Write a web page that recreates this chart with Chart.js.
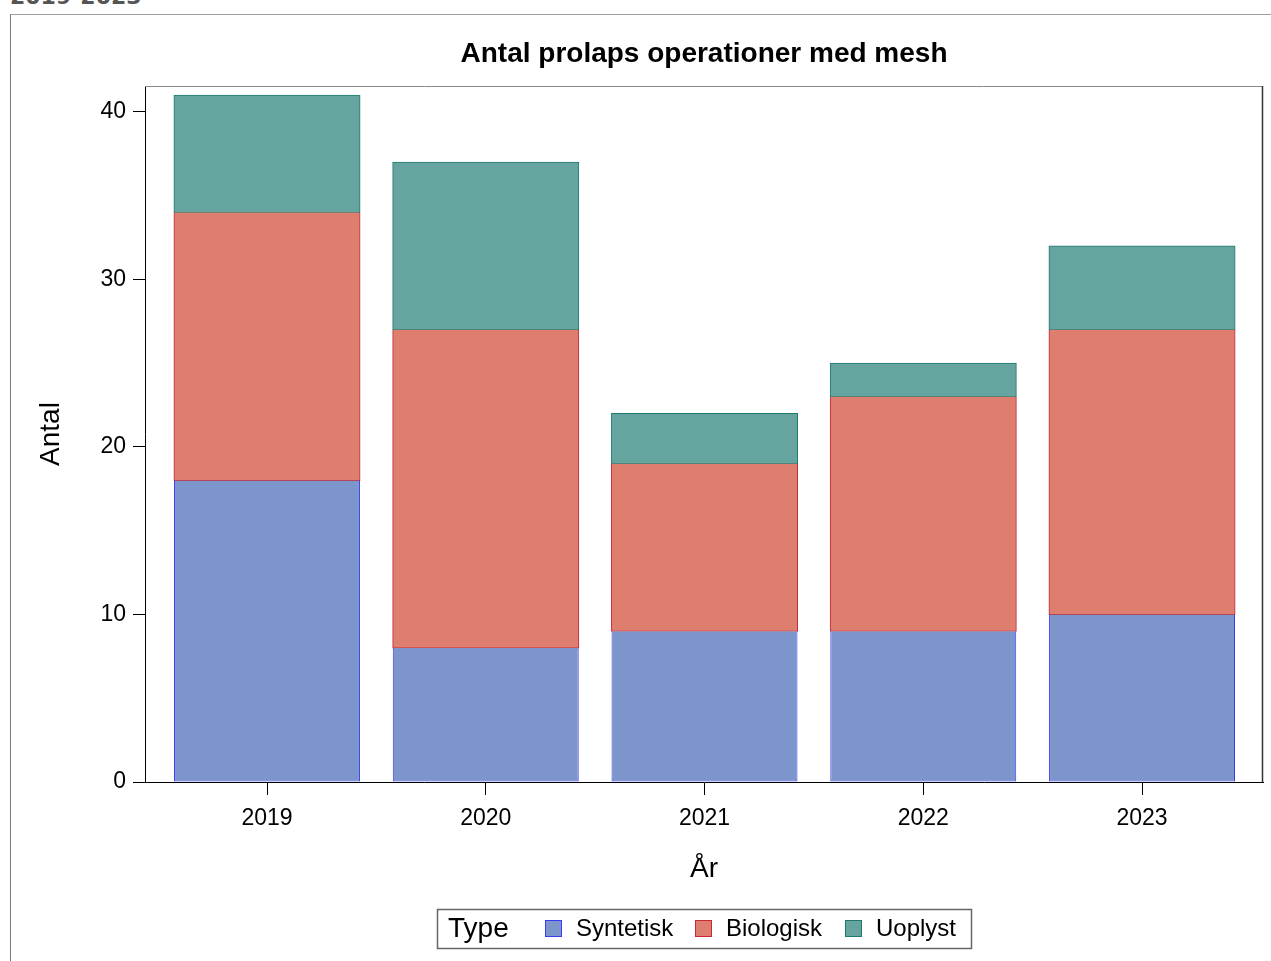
<!DOCTYPE html>
<html>
<head>
<meta charset="utf-8">
<script src="https://cdn.jsdelivr.net/npm/chart.js@4.4.1/dist/chart.umd.min.js"></script>
<style>
  html, body { margin: 0; padding: 0; background: #fff; width: 1271px; height: 961px; overflow: hidden; }
  #heading { position: absolute; left: 10px; top: -14px; font: bold 22px 'DejaVu Sans', sans-serif; line-height: 22px; color: #555; white-space: nowrap; }
  #frame { position: absolute; left: 10px; top: 14px; width: 1300px; height: 1000px; border-top: 1px solid #a0a0a0; border-left: 1px solid #7a7a7a; }
  #c { position: absolute; left: 11px; top: 15px; }
</style>
</head>
<body>
<div id="heading">2019-2023</div>
<div id="frame"></div>
<canvas id="c" width="1260" height="946"></canvas>
<script>
const years = ['2019', '2020', '2021', '2022', '2023'];
const syntetisk = [18, 8, 9, 9, 10];
const biologisk = [16, 19, 10, 14, 17];
const uoplyst = [7, 10, 3, 2, 5];
const yTicks = [0, 10, 20, 30, 40];
const seriesNames = ['Syntetisk', 'Biologisk', 'Uoplyst'];

const FONT = "'Liberation Sans', Arial, sans-serif";

function hasFont(name) {
  const cx = document.createElement('canvas').getContext('2d');
  const s = 'abcdefghijklmnopqrstuvwxyz0123456789';
  cx.font = '40px monospace';
  const a = cx.measureText(s).width;
  cx.font = "40px '" + name + "', monospace";
  const b = cx.measureText(s).width;
  return Math.abs(a - b) > 0.5;
}
const narrow = hasFont('Liberation Sans Narrow');
const TICKFONT = narrow ? { family: "'Liberation Sans Narrow', 'Liberation Sans', sans-serif", size: 26 }
                        : { family: FONT, size: 23 };

const toPoints = arr => arr.map((v, i) => ({ x: i, y: v }));

const frameLines = {
  id: 'frameLines',
  afterDatasetsDraw(chart) {
    const { ctx, chartArea: a } = chart;
    ctx.save();
    ctx.lineWidth = 1;
    ctx.strokeStyle = '#8a8a8a';
    ctx.beginPath();
    ctx.moveTo(a.left, a.top + 0.5);
    ctx.lineTo(a.right, a.top + 0.5);
    ctx.stroke();
    ctx.strokeStyle = '#333';
    ctx.lineWidth = 1.5;
    ctx.beginPath();
    ctx.moveTo(a.right - 0.5, a.top);
    ctx.lineTo(a.right - 0.5, a.bottom);
    ctx.stroke();
    ctx.restore();
  }
};

const boxLegend = {
  id: 'boxLegend',
  afterDraw(chart) {
    const { ctx } = chart;
    const box = { x: 426, y: 894, w: 534, h: 39 };
    ctx.save();
    ctx.strokeStyle = '#666';
    ctx.lineWidth = 1.5;
    ctx.strokeRect(box.x + 0.5, box.y + 0.5, box.w, box.h);
    const cy = box.y + box.h / 2 + 1;
    ctx.fillStyle = '#000';
    ctx.textBaseline = 'middle';
    ctx.textAlign = 'left';
    ctx.font = '28px ' + FONT;
    ctx.fillText('Type', box.x + 11, cy);
    ctx.font = '24px ' + FONT;
    chart.data.datasets.forEach((ds, i) => {
      const sx = box.x + 108 + i * 150;
      ctx.fillStyle = ds.backgroundColor;
      ctx.fillRect(sx, box.y + 11, 16, 16);
      ctx.strokeStyle = ds.borderColor;
      ctx.lineWidth = 1;
      ctx.strokeRect(sx + 0.5, box.y + 11.5, 16, 16);
      ctx.fillStyle = '#000';
      ctx.fillText(ds.label, sx + 31, cy);
    });
    ctx.restore();
  }
};

new Chart(document.getElementById('c'), {
  type: 'bar',
  data: {
    datasets: [
      { label: seriesNames[0], data: toPoints(syntetisk), backgroundColor: '#7c96cc', borderColor: '#3a3af0', borderWidth: 1, borderSkipped: 'end', inflateAmount: 0 },
      { label: seriesNames[1], data: toPoints(biologisk), backgroundColor: '#de7e6e', borderColor: '#c8283c', borderWidth: 1, borderSkipped: 'end', inflateAmount: 0.5 },
      { label: seriesNames[2], data: toPoints(uoplyst), backgroundColor: '#66a59f', borderColor: '#1f7a6e', borderWidth: 1, borderSkipped: false, inflateAmount: 0.5 }
    ]
  },
  options: {
    responsive: false,
    animation: false,
    layout: { padding: { left: 0, right: 8, top: 0, bottom: 59 } },
    categoryPercentage: 1,
    barPercentage: 0.85,
    plugins: {
      legend: { display: false },
      tooltip: { enabled: false },
      title: {
        display: true,
        text: 'Antal prolaps operationer med mesh',
        fullSize: false,
        color: '#000',
        font: { family: FONT, size: 28, weight: 'bold', lineHeight: 1.2 },
        padding: { top: 22, bottom: 15.4 }
      }
    },
    scales: {
      x: {
        type: 'linear',
        stacked: true,
        offset: false,
        bounds: 'data',
        min: -0.5577,
        max: 4.553,
        afterBuildTicks: s => { s.ticks = years.map((_, i) => ({ value: i })); },
        afterFit: s => { s.height = 120; },
        ticks: {
          callback: v => years[v],
          color: '#000',
          font: TICKFONT,
          padding: 10,
          maxRotation: 0,
          autoSkip: false
        },
        grid: { display: true, offset: false, drawOnChartArea: false, drawTicks: true, tickLength: 13, color: '#000' },
        border: { display: true, color: '#000', width: 1 },
        title: {
          display: true,
          text: 'År',
          color: '#000',
          font: { family: FONT, size: 28, lineHeight: 1.2 },
          padding: { top: 0, bottom: 15.7 }
        }
      },
      y: {
        stacked: true,
        min: 0,
        max: 41.55,
        afterBuildTicks: s => { s.ticks = yTicks.map(v => ({ value: v })); },
        afterFit: s => { s.width = 134; },
        ticks: {
          color: '#000',
          font: TICKFONT,
          padding: 7
        },
        grid: { display: true, drawOnChartArea: false, drawTicks: true, tickLength: 12, color: '#000' },
        border: { display: true, color: '#000', width: 1 },
        title: {
          display: true,
          text: 'Antal',
          color: '#000',
          font: { family: FONT, size: 28, lineHeight: 1.2 },
          padding: { top: 23, bottom: 0 }
        }
      }
    }
  },
  plugins: [frameLines, boxLegend]
});
</script>
</body>
</html>
